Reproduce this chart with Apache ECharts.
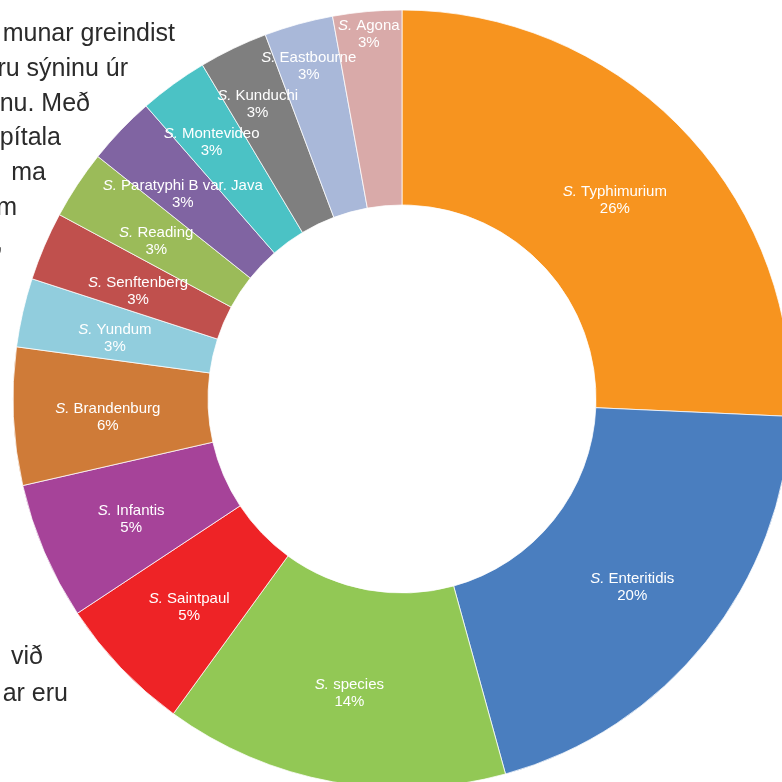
<!DOCTYPE html>
<html lang="is">
<head>
    <meta charset="UTF-8">
    <title>Salmonella sermisgerðir</title>
    <style>
        html, body { margin: 0; padding: 0; background: #fff; }
        #chart { width: 782px; height: 782px; }
    </style>
</head>
<body>
<div id="chart"></div>
<script src="https://cdn.jsdelivr.net/npm/echarts@6/dist/echarts.min.js"></script>
<script>
    // sermisgerðir, réttsælis frá kl. 12
    var serotypes = ['Typhimurium', 'Enteritidis', 'species', 'Saintpaul', 'Infantis', 'Brandenburg',
        'Yundum', 'Senftenberg', 'Reading', 'Paratyphi B var. Java', 'Montevideo', 'Kunduchi',
        'Eastbourne', 'Agona'];
    var counts = [9, 7, 5, 2, 2, 2, 1, 1, 1, 1, 1, 1, 1, 1];
    var pctLabels = ['26%', '20%', '14%', '5%', '5%', '6%', '3%', '3%', '3%', '3%', '3%', '3%', '3%', '3%'];
    var colors = ['#f7941f', '#4a7ebf', '#92c855', '#ee2326', '#a64399', '#cf7b38', '#91cddd',
        '#c0504d', '#9bbb59', '#8064a2', '#4bc2c5', '#7f7f7f', '#a9b8d9', '#d9aaa9'];

    // texti úr skjalinu sem liggur á bak við myndina
    var bgLinesTop = ['munar greindist', 'ru sýninu úr', 'nu. Með', 'pítala', 'ma', 'm', ','];
    var bgLinesBottom = ['við', 'ar eru'];

    var CX = 402, CY = 399;
    // hversu langt út hver merking er færð (1 = miðja hringsins)
    var labelShift = [1, 1, 1, 1, 1, 1, 1, 0.975, 1, 1.03, 1.1, 1.13, 1.19, 1.26];

    var pieData = [];
    for (var i = 0; i < serotypes.length; i++) {
        pieData.push({
            name: serotypes[i],
            value: counts[i],
            pct: pctLabels[i],
            itemStyle: {color: colors[i]}
        });
    }

    var graphics = [];
    var topRight = [175, 128, 90, 61, 46, 17, 3];
    for (var j = 0; j < bgLinesTop.length; j++) {
        graphics.push({
            type: 'text', z: -1,
            x: topRight[j], y: 47 + j * 34.7,
            style: {
                text: bgLinesTop[j], fill: '#2b2b2b',
                font: '25px "Liberation Sans", Arial, sans-serif',
                align: 'right', verticalAlign: 'bottom'
            }
        });
    }
    var botRight = [43, 68];
    for (var k = 0; k < bgLinesBottom.length; k++) {
        graphics.push({
            type: 'text', z: -1,
            x: botRight[k], y: 670 + k * 37,
            style: {
                text: bgLinesBottom[k], fill: '#2b2b2b',
                font: '25px "Liberation Sans", Arial, sans-serif',
                align: 'right', verticalAlign: 'bottom'
            }
        });
    }

    var chart = echarts.init(document.getElementById('chart'));
    chart.setOption({
        animation: false,
        graphic: graphics,
        series: [{
            type: 'pie',
            center: [CX, CY],
            radius: [194, 389],
            startAngle: 90,
            clockwise: true,
            avoidLabelOverlap: false,
            itemStyle: {borderColor: 'rgba(255,255,255,0.75)', borderWidth: 1},
            label: {
                show: true,
                position: 'inside',
                rotate: 0,
                color: '#fff',
                fontFamily: '"Liberation Sans", Arial, sans-serif',
                fontSize: 15,
                lineHeight: 17,
                formatter: function (p) {
                    return '{i|S.}{n| ' + p.name + '}\n{n|' + p.data.pct + '}';
                },
                rich: {
                    i: {fontStyle: 'italic', color: '#fff', fontSize: 15, lineHeight: 17,
                        fontFamily: '"Liberation Sans", Arial, sans-serif'},
                    n: {color: '#fff', fontSize: 15, lineHeight: 17,
                        fontFamily: '"Liberation Sans", Arial, sans-serif'}
                }
            },
            labelLine: {show: false},
            labelLayout: function (p) {
                var s = labelShift[p.dataIndex];
                var mx = p.labelRect.x + p.labelRect.width / 2;
                var my = p.labelRect.y + p.labelRect.height / 2;
                return {x: CX + (mx - CX) * s, y: CY + (my - CY) * s + 5};
            },
            data: pieData
        }]
    });
</script>
</body>
</html>
